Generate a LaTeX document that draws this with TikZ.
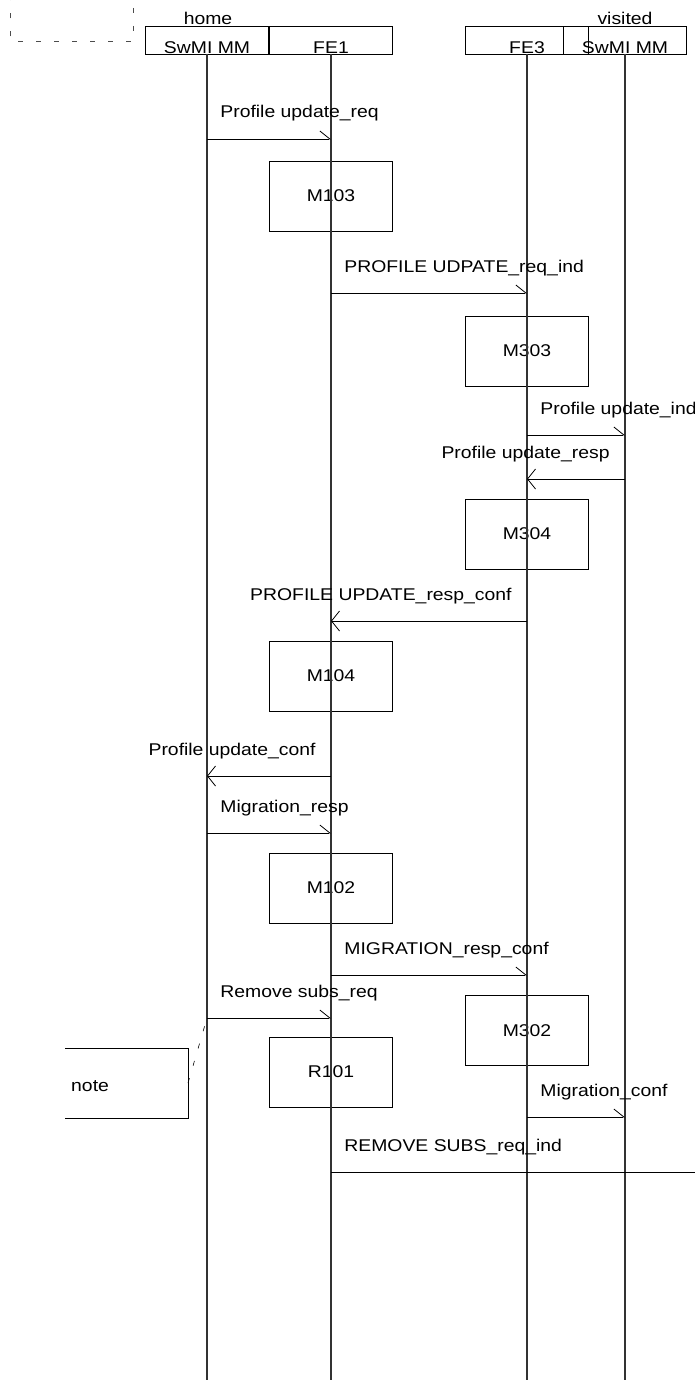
\documentclass[tikz,border=0pt]{standalone}
\usepackage{fontspec}
\setmainfont{Liberation Sans}[FakeStretch=1.14]
\usetikzlibrary{arrows.meta}
\begin{document}
\begin{tikzpicture}[x=1pt,y=-1pt,
  txt/.style={font=\fontsize{17}{20}\selectfont, inner sep=0pt},
  hdr/.style={txt, draw, line width=0.8pt, minimum width=123pt, minimum height=28pt, text height=27pt, text depth=0.5pt},
  actbox/.style={txt, draw, line width=0.8pt, minimum width=123pt, minimum height=70pt},
  life/.style={line width=1.1pt, black!80},
  msgr/.style={line width=0.8pt, -{Straight Barb[left, length=10pt, width=16pt, line width=0.8pt]}},
  msgl/.style={line width=0.8pt, -{Straight Barb[length=8pt, width=20pt, line width=0.8pt]}},
  lblr/.style={txt, pos=0, anchor=base west, xshift=13pt, yshift=21pt},
  lbll/.style={txt, pos=0, anchor=base east, xshift=-15pt, yshift=21pt},
]
\useasboundingbox (0,0) rectangle (695,1380);
% top-left dashed frame (partly cut)
\draw[line width=0.6pt, black!70, dash pattern=on 5pt off 13pt] (133,-10) -- (133,41.7) -- (10,41.7) -- (10,-10);
% group labels
\node[txt, anchor=base] (home) at (208,25) {home};
\node[txt, anchor=base] (visited) at (625,25) {visited};
% header boxes
\node[hdr] (sw) at (207,40) {SwMI MM};
\node[hdr] (fe1) at (331,40) {FE1};
\node[hdr] (fe3) at (527,40) {FE3};
\node[hdr] (vs) at (625,40) {SwMI MM};
% action boxes
\node[actbox] (M103) at (331,196) {M103};
\node[actbox] (M303) at (527,351) {M303};
\node[actbox] (M304) at (527,534) {M304};
\node[actbox] (M104) at (331,676) {M104};
\node[actbox] (M102) at (331,888) {M102};
\node[actbox] (M302) at (527,1030.5) {M302};
\node[actbox] (R101) at (331,1072) {R101};
% lifelines
\coordinate (bot) at (0,1380);
\foreach \n in {sw,fe1,fe3,vs}
  \draw[life] (\n.south) -- (\n.south |- bot);
% message rows
\coordinate (r1) at (0,139);
\coordinate (r2) at (0,293);
\coordinate (r3) at (0,435);
\coordinate (r4) at (0,479);
\coordinate (r5) at (0,621);
\coordinate (r6) at (0,776);
\coordinate (r7) at (0,833);
\coordinate (r8) at (0,975);
\coordinate (r9) at (0,1018);
\coordinate (r10) at (0,1117);
\coordinate (r11) at (0,1172);
\coordinate (edge) at (695,1172);
\draw[msgr] (sw |- r1) -- node[lblr] {Profile update\_req} (fe1 |- r1);
\draw[msgr] (fe1 |- r2) -- node[lblr] {PROFILE UDPATE\_req\_ind} (fe3 |- r2);
\draw[msgr] (fe3 |- r3) -- node[lblr] {Profile update\_ind} (vs |- r3);
\draw[msgl] (vs |- r4) -- node[lbll] {Profile update\_resp} (fe3 |- r4);
\draw[msgl] (fe3 |- r5) -- node[lbll] {PROFILE UPDATE\_resp\_conf} (fe1 |- r5);
\draw[msgl] (fe1 |- r6) -- node[lbll] {Profile update\_conf} (sw |- r6);
\draw[msgr] (sw |- r7) -- node[lblr] {Migration\_resp} (fe1 |- r7);
\draw[msgr] (fe1 |- r8) -- node[lblr] {MIGRATION\_resp\_conf} (fe3 |- r8);
\draw[msgr] (sw |- r9) -- node[lblr] {Remove subs\_req} (fe1 |- r9);
\draw[msgr] (fe3 |- r10) -- node[lblr] {Migration\_conf} (vs |- r10);
\draw[line width=0.8pt] (fe1 |- r11) -- node[lblr] {REMOVE SUBS\_req\_ind} (edge);
% note
\coordinate (nTL) at (65,1048);
\coordinate (nTR) at (188,1048);
\coordinate (nBR) at (188,1118);
\coordinate (nBL) at (65,1118);
\coordinate (nR) at (188,1083);
\draw[line width=0.8pt] (nTL) -- (nTR) -- (nBR) -- (nBL);
\node[txt, anchor=base west] (notetext) at (71,1091) {note};
\draw[line width=0.6pt, dash pattern=on 5pt off 13pt] (nR) -- (sw |- r9);
\end{tikzpicture}
\end{document}
